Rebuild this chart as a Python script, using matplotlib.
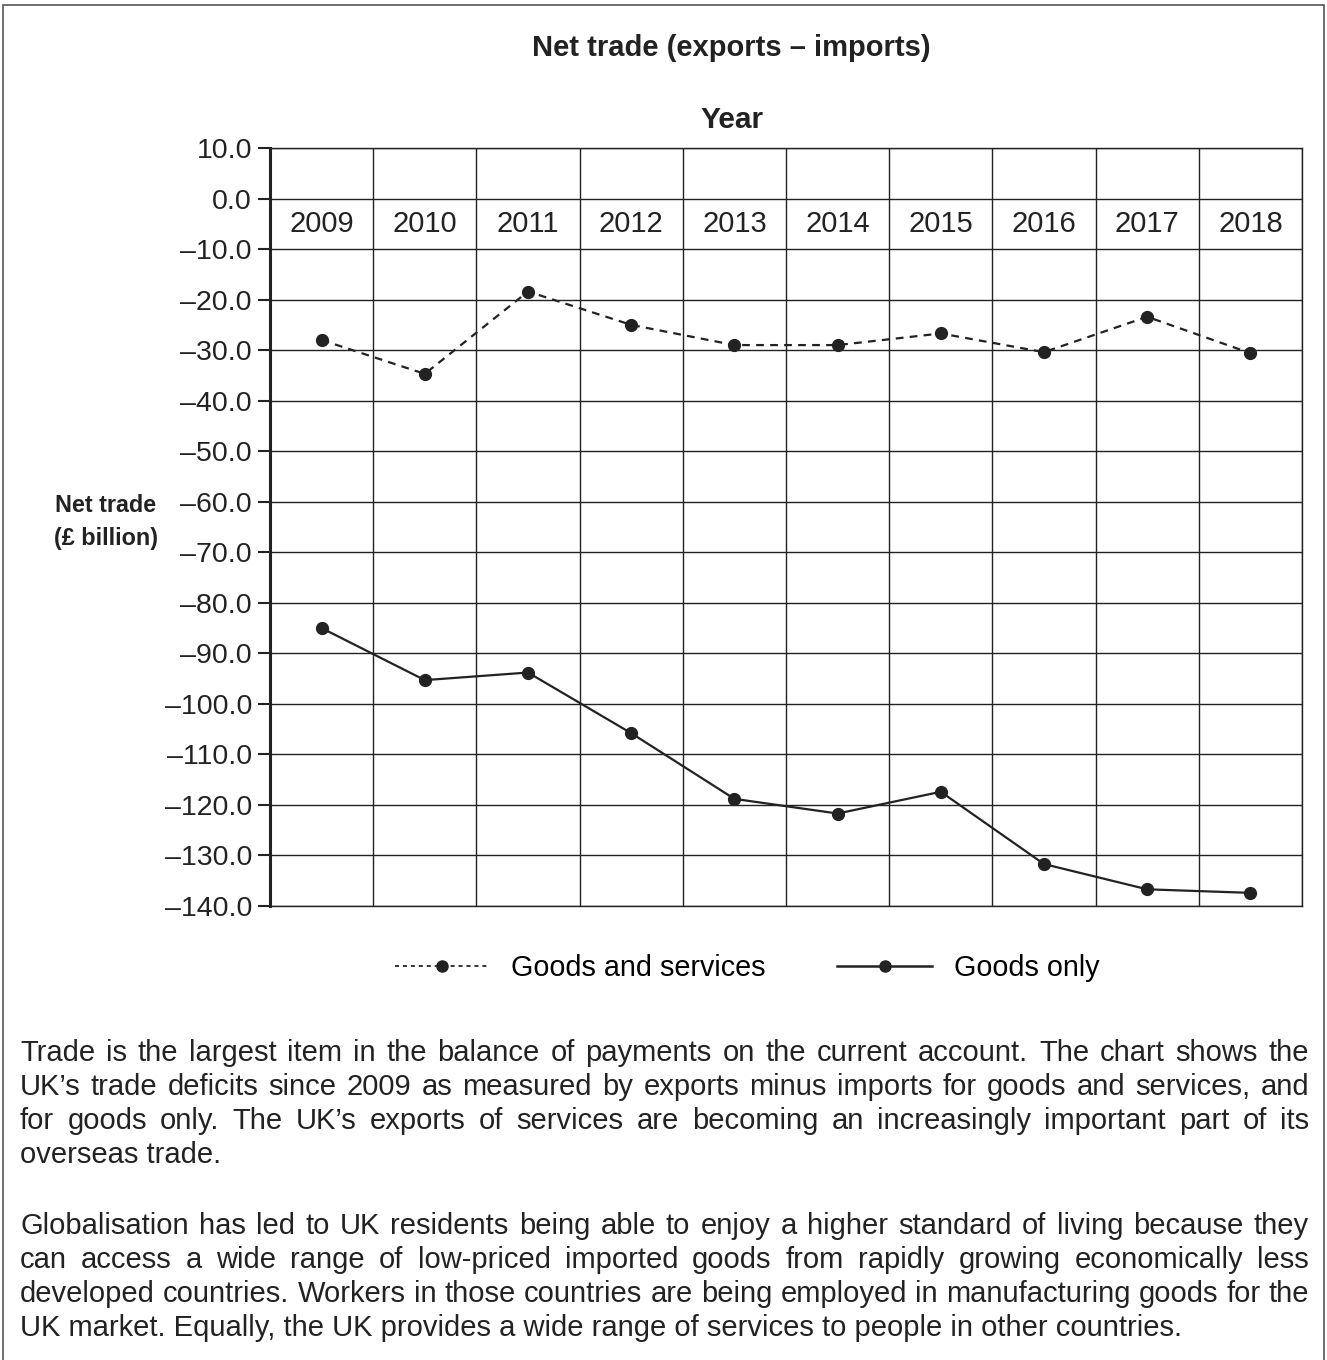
import numpy as np
import matplotlib.pyplot as plt
from matplotlib.lines import Line2D
from matplotlib.patches import Rectangle

plt.rcParams['font.family'] = ['Liberation Sans', 'DejaVu Sans']

years = ["2009", "2010", "2011", "2012", "2013", "2014", "2015", "2016", "2017", "2018"]
goods_services = [-28.0, -34.7, -18.4, -25.0, -29.0, -29.0, -26.7, -30.4, -23.4, -30.6]
goods_only = [-85.0, -95.3, -93.8, -105.8, -118.8, -121.7, -117.4, -131.7, -136.7, -137.4]
yticks = np.arange(10, -141, -10)

para1 = [
    "Trade is the largest item in the balance of payments on the current account. The chart shows the",
    "UK\u2019s trade deficits since 2009 as measured by exports minus imports for goods and services, and",
    "for goods only. The UK\u2019s exports of services are becoming an increasingly important part of its",
    "overseas trade.",
]
para2 = [
    "Globalisation has led to UK residents being able to enjoy a higher standard of living because they",
    "can access a wide range of low-priced imported goods from rapidly growing economically less",
    "developed countries. Workers in those countries are being employed in manufacturing goods for the",
    "UK market. Equally, the UK provides a wide range of services to people in other countries.",
]

W, H = 1327, 1360
ink = '#222222'
fig = plt.figure(figsize=(W / 100, H / 100), dpi=100)

# outer frame
fig.patches.append(Rectangle((3 / W, -0.01), (1324 - 3) / W, 1.01 - 5 / H,
                             transform=fig.transFigure, fill=False,
                             edgecolor='#555555', linewidth=1.2))

ax = fig.add_axes([270 / W, 1 - 906 / H, (1302 - 270) / W, (906 - 148) / H])
x = np.arange(len(years))

ax.plot(x, goods_services, color=ink, linestyle=(0, (3.5, 2.8)), linewidth=1.6,
        marker='o', markersize=8.5)
ax.plot(x, goods_only, color=ink, linestyle='-', linewidth=1.6,
        marker='o', markersize=8.5)

ax.set_xlim(-0.5, len(years) - 0.5)
ax.set_ylim(-140, 10)
ax.set_yticks(yticks)
ax.set_yticklabels([f"{v:.1f}".replace('-', '\u2013') for v in yticks], fontsize=20.5, color=ink)
ax.set_xticks(np.arange(-0.5, len(years), 1))
ax.set_xticklabels([])
ax.tick_params(axis='x', length=0)
ax.tick_params(axis='y', length=9, width=1.5, direction='out', pad=4, color=ink)
ax.grid(True, color=ink, linewidth=1.0)
ax.set_axisbelow(True)
for s in ax.spines.values():
    s.set_linewidth(1.0)
    s.set_color(ink)
ax.spines['left'].set_linewidth(2.2)

for i, yr in enumerate(years):
    ax.text(i, -5, yr, ha='center', va='center', fontsize=21, color=ink)

fig.text(731 / W, 1 - 48 / H, "Net trade (exports \u2013 imports)", ha='center', va='center',
         fontsize=21, fontweight='bold', color=ink)
fig.text(732 / W, 1 - 120 / H, "Year", ha='center', va='center',
         fontsize=21.5, fontweight='bold', color=ink)
fig.text(106 / W, 1 - 522 / H, "Net trade\n(\u00a3 billion)", ha='center', va='center',
         fontsize=16.8, fontweight='bold', color=ink, linespacing=1.55)

handles = [
    Line2D([], [], color=ink, linestyle=(0, (2.2, 2.2)), linewidth=1.3, marker='o', markersize=8),
    Line2D([], [], color=ink, linestyle='-', linewidth=1.8, marker='o', markersize=8),
]
fig.legend(handles, ["Goods and services", "Goods only"], loc='center',
           bbox_to_anchor=(747 / W, 1 - 968 / H), ncol=2, frameon=False,
           fontsize=20.7, handlelength=3.3, columnspacing=2.5, handletextpad=0.75)

# justified paragraph text
fig.canvas.draw()
renderer = fig.canvas.get_renderer()
left, right = 20, 1309
fs = 21


def draw_line(line, y_px, justify):
    if not justify:
        fig.text(left / W, 1 - y_px / H, line, ha='left', va='center', fontsize=fs, color=ink)
        return
    words = line.split(' ')
    widths = []
    for w in words:
        t = fig.text(0, 0, w, fontsize=fs)
        widths.append(t.get_window_extent(renderer).width)
        t.remove()
    gap = (right - left - sum(widths)) / (len(words) - 1)
    xpos = left
    for w, wd in zip(words, widths):
        fig.text(xpos / W, 1 - y_px / H, w, ha='left', va='center', fontsize=fs, color=ink)
        xpos += wd + gap


for i, line in enumerate(para1):
    draw_line(line, 1053 + 34 * i, i < len(para1) - 1)
for i, line in enumerate(para2):
    draw_line(line, 1226 + 34 * i, i < len(para2) - 1)

fig.savefig("out.png", dpi=100)
